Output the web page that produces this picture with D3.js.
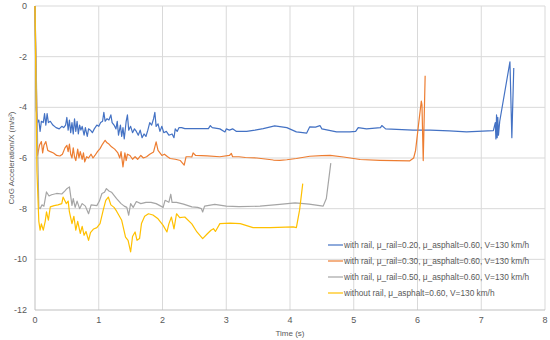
<!DOCTYPE html>
<html>
<head>
<meta charset="utf-8">
<script src="https://cdn.jsdelivr.net/npm/d3@7"></script>
<style>
  body { margin: 0; background: #fff; }
  svg { display: block; }
</style>
</head>
<body>
<div id="chart"></div>
<script>
// series: [time (s), CoG acceleration X (m/s²)]
const rail020 = [[0,0],[0.02,-4.1],[0.04,-4.6],[0.06,-4.5],[0.08,-4.95],[0.10,-4.55],[0.13,-4.6],[0.15,-4.25],[0.17,-4.7],[0.19,-4.25],[0.21,-4.6],[0.24,-4.55],[0.28,-4.7],[0.33,-4.8],[0.38,-4.85],[0.42,-4.75],[0.45,-4.8],[0.48,-4.7],[0.50,-4.4],[0.52,-4.9],[0.54,-4.5],[0.56,-5.0],[0.58,-4.6],[0.60,-5.05],[0.62,-4.45],[0.64,-4.95],[0.66,-4.55],[0.68,-5.05],[0.70,-4.7],[0.72,-4.9],[0.74,-4.75],[0.77,-5.1],[0.79,-4.8],[0.82,-5.15],[0.84,-4.85],[0.87,-4.9],[0.90,-5.0],[0.93,-4.85],[0.97,-4.7],[1.00,-4.75],[1.03,-4.6],[1.06,-4.55],[1.08,-4.2],[1.10,-4.55],[1.13,-4.45],[1.16,-4.5],[1.19,-4.3],[1.21,-4.6],[1.24,-4.7],[1.27,-4.85],[1.29,-4.55],[1.31,-5.1],[1.34,-4.7],[1.36,-5.15],[1.38,-4.8],[1.40,-5.25],[1.43,-4.55],[1.45,-4.3],[1.47,-4.9],[1.50,-4.75],[1.53,-5.0],[1.56,-4.85],[1.59,-4.95],[1.62,-5.1],[1.65,-4.9],[1.68,-5.2],[1.71,-5.05],[1.74,-5.15],[1.77,-4.9],[1.80,-4.6],[1.83,-4.7],[1.86,-4.45],[1.88,-4.2],[1.90,-4.75],[1.93,-4.65],[1.96,-4.95],[1.99,-4.75],[2.02,-5.0],[2.06,-4.95],[2.10,-5.1],[2.15,-5.05],[2.18,-5.2],[2.20,-4.85],[2.23,-4.95],[2.26,-4.8],[2.30,-4.8],[2.35,-4.84],[2.5,-4.84],[2.72,-4.84],[2.75,-4.72],[2.78,-4.8],[2.9,-4.85],[2.98,-4.97],[3.0,-4.85],[3.05,-4.9],[3.1,-4.85],[3.16,-4.95],[3.32,-4.95],[3.45,-4.9],[3.58,-4.84],[3.76,-4.73],[3.95,-4.8],[4.1,-4.97],[4.2,-5.0],[4.26,-5.02],[4.31,-4.77],[4.4,-4.78],[4.47,-4.72],[4.5,-4.85],[4.73,-4.97],[4.94,-4.97],[5.03,-4.95],[5.07,-4.8],[5.2,-4.85],[5.42,-4.8],[5.44,-4.72],[5.5,-4.85],[5.93,-4.9],[6.2,-4.9],[6.5,-4.93],[6.77,-4.97],[7.19,-4.92],[7.22,-4.6],[7.23,-5.25],[7.24,-4.3],[7.25,-5.2],[7.26,-4.4],[7.27,-5.1],[7.29,-4.55],[7.45,-2.2],[7.48,-5.2],[7.51,-2.45]]

const rail030 = [[0,0],[0.04,-5.9],[0.07,-5.5],[0.1,-5.35],[0.12,-5.8],[0.14,-5.5],[0.17,-5.35],[0.2,-5.7],[0.24,-5.75],[0.29,-5.8],[0.34,-5.9],[0.39,-5.92],[0.43,-5.85],[0.47,-5.6],[0.5,-5.5],[0.52,-5.75],[0.54,-5.45],[0.56,-5.85],[0.58,-6.0],[0.6,-5.6],[0.62,-5.95],[0.64,-6.1],[0.67,-5.65],[0.69,-6.0],[0.71,-5.75],[0.74,-6.05],[0.76,-5.8],[0.78,-6.15],[0.81,-5.95],[0.84,-6.0],[0.88,-5.85],[0.91,-6.0],[0.94,-5.9],[0.98,-5.75],[1.02,-5.63],[1.06,-5.45],[1.1,-5.3],[1.13,-5.4],[1.16,-5.45],[1.2,-5.56],[1.25,-5.65],[1.3,-5.8],[1.33,-6.0],[1.35,-5.75],[1.38,-6.35],[1.41,-5.8],[1.43,-6.1],[1.45,-5.85],[1.49,-5.9],[1.53,-6.05],[1.57,-5.95],[1.61,-6.05],[1.66,-5.9],[1.7,-6.0],[1.75,-5.95],[1.8,-5.85],[1.86,-5.76],[1.9,-5.36],[1.93,-5.7],[1.99,-5.9],[2.03,-5.85],[2.08,-5.95],[2.12,-6.02],[2.2,-6.05],[2.28,-6.1],[2.34,-6.28],[2.37,-5.95],[2.42,-5.95],[2.46,-5.96],[2.48,-5.8],[2.52,-5.9],[2.7,-5.92],[2.9,-5.95],[3.05,-5.9],[3.08,-5.82],[3.1,-5.95],[3.2,-5.95],[3.3,-5.98],[3.48,-6.0],[3.74,-6.08],[3.84,-6.09],[3.95,-6.07],[4.1,-6.02],[4.31,-5.93],[4.5,-5.91],[4.63,-5.9],[4.84,-5.96],[5.1,-6.06],[5.41,-6.09],[5.88,-6.11],[5.94,-6.0],[5.97,-5.7],[6.02,-4.6],[6.06,-3.75],[6.07,-3.9],[6.09,-6.1],[6.12,-2.75]]

const rail050 = [[0,0],[0.06,-7.95],[0.08,-8.0],[0.11,-7.85],[0.14,-7.9],[0.18,-7.34],[0.22,-7.5],[0.26,-7.45],[0.34,-7.4],[0.42,-7.42],[0.47,-7.3],[0.5,-7.21],[0.54,-7.14],[0.58,-7.87],[0.6,-7.6],[0.63,-7.95],[0.66,-7.7],[0.7,-8.0],[0.74,-7.8],[0.79,-7.9],[0.84,-8.2],[0.88,-7.85],[0.97,-7.88],[1.01,-7.7],[1.05,-7.4],[1.09,-7.35],[1.12,-7.21],[1.16,-7.3],[1.2,-7.35],[1.28,-7.6],[1.35,-7.8],[1.4,-7.9],[1.44,-7.95],[1.47,-8.26],[1.5,-7.8],[1.54,-7.95],[1.59,-7.72],[1.66,-7.8],[1.74,-7.75],[1.82,-7.75],[1.9,-7.8],[2.01,-7.95],[2.04,-7.67],[2.1,-7.75],[2.13,-7.43],[2.15,-7.75],[2.22,-7.75],[2.33,-7.82],[2.46,-7.93],[2.55,-7.95],[2.61,-8.0],[2.63,-8.13],[2.66,-7.9],[2.82,-7.83],[3.0,-7.9],[3.2,-7.92],[3.53,-7.9],[3.84,-7.83],[4.08,-7.77],[4.3,-7.82],[4.52,-7.9],[4.57,-7.6],[4.64,-6.2]]

const noRail = [[0,0],[0.03,-6.5],[0.06,-8.5],[0.08,-8.85],[0.1,-8.6],[0.13,-8.85],[0.16,-8.5],[0.18,-8.13],[0.21,-8.45],[0.24,-7.93],[0.3,-7.88],[0.36,-7.85],[0.42,-7.8],[0.44,-7.54],[0.49,-7.8],[0.52,-7.7],[0.54,-8.13],[0.58,-8.59],[0.61,-8.3],[0.64,-8.85],[0.67,-8.5],[0.71,-8.98],[0.74,-8.7],[0.77,-9.05],[0.8,-8.9],[0.84,-9.25],[0.87,-8.95],[0.92,-8.8],[0.97,-8.75],[1.02,-8.59],[1.07,-8.06],[1.11,-7.67],[1.15,-7.54],[1.19,-7.85],[1.24,-7.95],[1.28,-8.1],[1.36,-8.46],[1.42,-9.12],[1.46,-9.25],[1.5,-9.71],[1.53,-9.1],[1.57,-8.92],[1.6,-9.25],[1.64,-9.18],[1.67,-8.59],[1.72,-8.3],[1.78,-8.2],[1.85,-8.25],[1.93,-8.4],[2.01,-8.66],[2.07,-8.92],[2.1,-8.6],[2.14,-8.33],[2.18,-8.8],[2.22,-8.2],[2.27,-8.35],[2.35,-8.33],[2.46,-8.6],[2.54,-8.92],[2.63,-9.18],[2.7,-9.0],[2.76,-8.85],[2.8,-8.79],[2.83,-8.9],[2.9,-8.59],[3.06,-8.57],[3.22,-8.59],[3.42,-8.75],[3.69,-8.75],[4.05,-8.72],[4.1,-8.75],[4.15,-8.06],[4.2,-7.01]]

const seriesNames = [
  "with rail, \u03bc_rail=0.20, \u03bc_asphalt=0.60, V=130 km/h",
  "with rail, \u03bc_rail=0.30, \u03bc_asphalt=0.60, V=130 km/h",
  "with rail, \u03bc_rail=0.50, \u03bc_asphalt=0.60, V=130 km/h",
  "without rail, \u03bc_asphalt=0.60, V=130 km/h"
]
const seriesColors = ["#4472C4", "#ED7D31", "#A5A5A5", "#FFC000"]
const xTicks = [0, 1, 2, 3, 4, 5, 6, 7, 8]
const yTicks = [0, -2, -4, -6, -8, -10, -12]

const width = 550, height = 340
const margin = {top: 6, right: 5, bottom: 30, left: 35}
const font = "'Liberation Sans', Arial, sans-serif"
const textColor = "#595959"

const svg = d3.select("#chart").append("svg")
    .attr("width", width)
    .attr("height", height)

const x = d3.scaleLinear().domain([0, 8]).range([margin.left, width - margin.right])
const y = d3.scaleLinear().domain([-12, 0]).range([height - margin.bottom, margin.top])

// gridlines
svg.append("g").selectAll("line")
    .data(xTicks.slice(1))
    .enter().append("line")
    .attr("x1", d => x(d)).attr("x2", d => x(d))
    .attr("y1", y(0)).attr("y2", y(-12))
    .attr("stroke", "#d9d9d9")

svg.append("g").selectAll("line")
    .data(yTicks.slice(0, -1))
    .enter().append("line")
    .attr("x1", x(0)).attr("x2", x(8))
    .attr("y1", d => y(d)).attr("y2", d => y(d))
    .attr("stroke", "#d9d9d9")

// axis lines
svg.append("line")
    .attr("x1", x(0)).attr("x2", x(8))
    .attr("y1", y(-12)).attr("y2", y(-12))
    .attr("stroke", "#bfbfbf")
svg.append("line")
    .attr("x1", x(0)).attr("x2", x(0))
    .attr("y1", y(0)).attr("y2", y(-12))
    .attr("stroke", "#bfbfbf")

// tick labels
svg.append("g").selectAll("text")
    .data(yTicks)
    .enter().append("text")
    .attr("x", x(0) - 8)
    .attr("y", d => y(d))
    .attr("dy", "0.35em")
    .attr("text-anchor", "end")
    .attr("font-family", font)
    .attr("font-size", 9)
    .attr("fill", textColor)
    .text(d => d)

svg.append("g").selectAll("text")
    .data(xTicks)
    .enter().append("text")
    .attr("x", d => x(d))
    .attr("y", y(-12) + 10)
    .attr("dy", "0.35em")
    .attr("text-anchor", "middle")
    .attr("font-family", font)
    .attr("font-size", 9)
    .attr("fill", textColor)
    .text(d => d)

// axis titles
svg.append("text")
    .attr("transform", "translate(11," + (y(-6)) + ") rotate(-90)")
    .attr("dy", "0.35em")
    .attr("text-anchor", "middle")
    .attr("font-family", font)
    .attr("font-size", 8)
    .attr("fill", textColor)
    .text("CoG Acceleration/X (m/s\u00b2)")

svg.append("text")
    .attr("x", 290)
    .attr("y", 333)
    .attr("dy", "0.35em")
    .attr("text-anchor", "middle")
    .attr("font-family", font)
    .attr("font-size", 8)
    .attr("fill", textColor)
    .text("Time  (s)")

// lines
const line = d3.line()
    .x(d => x(d[0]))
    .y(d => y(d[1]))

const allSeries = [rail020, rail030, rail050, noRail]

svg.append("g").selectAll("path")
    .data(allSeries)
    .enter().append("path")
    .attr("d", line)
    .attr("fill", "none")
    .attr("stroke", (d, i) => seriesColors[i])
    .attr("stroke-width", 1.2)
    .attr("stroke-linejoin", "round")

// legend
const legend = svg.append("g")
    .attr("transform", "translate(328,245)")

const row = legend.selectAll("g")
    .data(seriesNames)
    .enter().append("g")
    .attr("transform", (d, i) => "translate(0," + i * 16 + ")")

row.append("line")
    .attr("x1", 0).attr("x2", 15)
    .attr("stroke", (d, i) => seriesColors[i])
    .attr("stroke-width", 1.2)

row.append("text")
    .attr("x", 16)
    .attr("dy", "0.35em")
    .attr("font-family", font)
    .attr("font-size", 8.3)
    .attr("fill", textColor)
    .text(d => d)
</script>
</body>
</html>
